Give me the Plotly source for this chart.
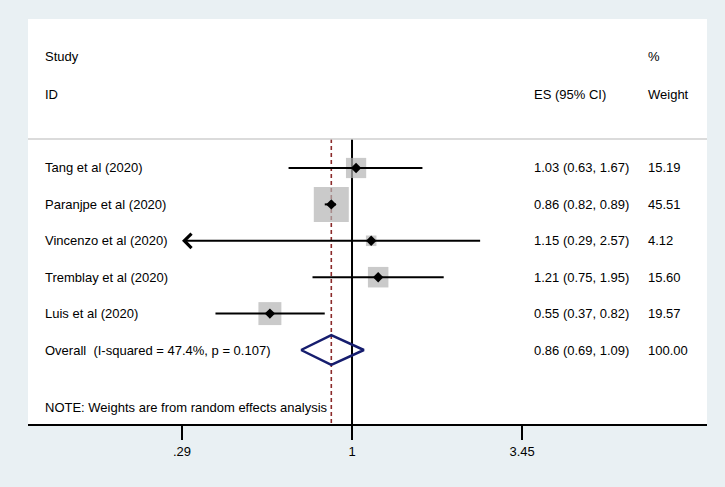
import math
import plotly.graph_objects as go

# ---- data ----
studies = ["Tang et al (2020)", "Paranjpe et al (2020)", "Vincenzo et al (2020)",
           "Tremblay et al (2020)", "Luis et al (2020)"]
es = [1.03, 0.86, 1.15, 1.21, 0.55]
ci_lo = [0.63, 0.82, 0.29, 0.75, 0.37]
ci_hi = [1.67, 0.89, 2.57, 1.95, 0.82]
weights = [15.19, 45.51, 4.12, 15.60, 19.57]

overall_label = "Overall\u00a0\u00a0(I-squared = 47.4%, p = 0.107)"
overall_es, overall_lo, overall_hi, overall_w = 0.86, 0.69, 1.09, 100.00

tick_vals = [0.29, 1, 3.45]
tick_text = [".29", "1", "3.45"]
note = "NOTE: Weights are from random effects analysis"

# ---- layout constants ----
FONT = "Liberation Sans, Arial, sans-serif"
FS = 13
BG = "#e9f0f3"
rows = list(range(len(studies)))
overall_row = len(studies)
y_top, y_bot = -4.093, 7.033
hdr1, hdr2, sep_y, note_y = -3.05, -2.03, -0.797, 6.59
axis_min = min(tick_vals)

fig = go.Figure()

# reference lines
fig.add_trace(go.Scatter(x=[1, 1], y=[sep_y, y_bot], mode="lines",
                         line=dict(color="black", width=2), hoverinfo="skip"))
fig.add_trace(go.Scatter(x=[overall_es, overall_es], y=[sep_y, y_bot], mode="lines",
                         line=dict(color="#8b2a2a", width=1.6, dash="4px,3px"),
                         hoverinfo="skip"))

# weight boxes
wmax = max(weights)
fig.add_trace(go.Scatter(x=es, y=rows, mode="markers",
                         marker=dict(symbol="square", color="#b3b3b3",
                                     size=[35 * math.sqrt(w / wmax) for w in weights],
                                     line=dict(width=0)),
                         hoverinfo="skip"))

# CI lines (clipped ones drawn as arrows)
for r, lo, hi in zip(rows, ci_lo, ci_hi):
    if lo <= axis_min:
        fig.add_annotation(x=math.log10(lo), y=r, ax=math.log10(hi), ay=r,
                           xref="x", yref="y", axref="x", ayref="y",
                           text="", showarrow=True, arrowhead=4, arrowsize=1.4,
                           arrowwidth=2, arrowcolor="black", standoff=0)
    else:
        fig.add_trace(go.Scatter(x=[lo, hi], y=[r, r], mode="lines",
                                 line=dict(color="black", width=2), hoverinfo="skip"))

# point estimates
fig.add_trace(go.Scatter(x=es, y=rows, mode="markers",
                         marker=dict(symbol="diamond", color="black", size=8),
                         hoverinfo="skip"))

# overall diamond
h = 0.41
fig.add_trace(go.Scatter(x=[overall_lo, overall_es, overall_hi, overall_es, overall_lo],
                         y=[overall_row, overall_row - h, overall_row, overall_row + h, overall_row],
                         mode="lines", line=dict(color="#161d6e", width=2.5),
                         hoverinfo="skip"))

# header separator
fig.add_shape(type="line", xref="paper", x0=0, x1=1, yref="y", y0=sep_y, y1=sep_y,
              line=dict(color="#cfcfcf", width=1.5))

# texts
def txt(x, y, s):
    fig.add_annotation(x=x, y=y, xref="paper", yref="y", text=s, showarrow=False,
                       xanchor="left", yanchor="middle",
                       font=dict(family=FONT, size=FS, color="black"))

x_lab, x_es, x_w = 0.0215, 0.743, 0.9105
txt(x_lab, hdr1, "Study")
txt(x_lab, hdr2, "ID")
txt(x_es, hdr2, "ES (95% CI)")
txt(x_w, hdr1, "%")
txt(x_w, hdr2, "Weight")
for r, s, e, lo, hi, w in zip(rows, studies, es, ci_lo, ci_hi, weights):
    txt(x_lab, r, s)
    txt(x_es, r, f"{e:.2f} ({lo:.2f}, {hi:.2f})")
    txt(x_w, r, f"{w:.2f}")
txt(x_lab, overall_row, overall_label)
txt(x_es, overall_row, f"{overall_es:.2f} ({overall_lo:.2f}, {overall_hi:.2f})")
txt(x_w, overall_row, f"{overall_w:.2f}")
txt(x_lab, note_y, note)

fig.update_layout(
    width=725, height=487, autosize=False,
    margin=dict(l=28, r=18, t=19, b=63),
    paper_bgcolor=BG, plot_bgcolor="white",
    showlegend=False,
    font=dict(family=FONT, size=FS, color="black"),
    xaxis=dict(type="log", range=[-1.0247, 1.1227], showgrid=False, zeroline=False,
               showline=True, linecolor="black", linewidth=2,
               tickmode="array", tickvals=tick_vals, ticktext=tick_text,
               ticks="outside", ticklen=14, tickwidth=2, tickcolor="black",
               tickfont=dict(family=FONT, size=FS, color="black")),
    yaxis=dict(range=[y_bot, y_top], showgrid=False, zeroline=False,
               showticklabels=False, showline=False, ticks=""),
)

fig.write_html("out.html",
               config={"displayModeBar": False},
               post_script="document.body.style.margin='0';"
                           "document.body.style.background='%s';"
                           "document.body.style.overflow='hidden';" % BG)
